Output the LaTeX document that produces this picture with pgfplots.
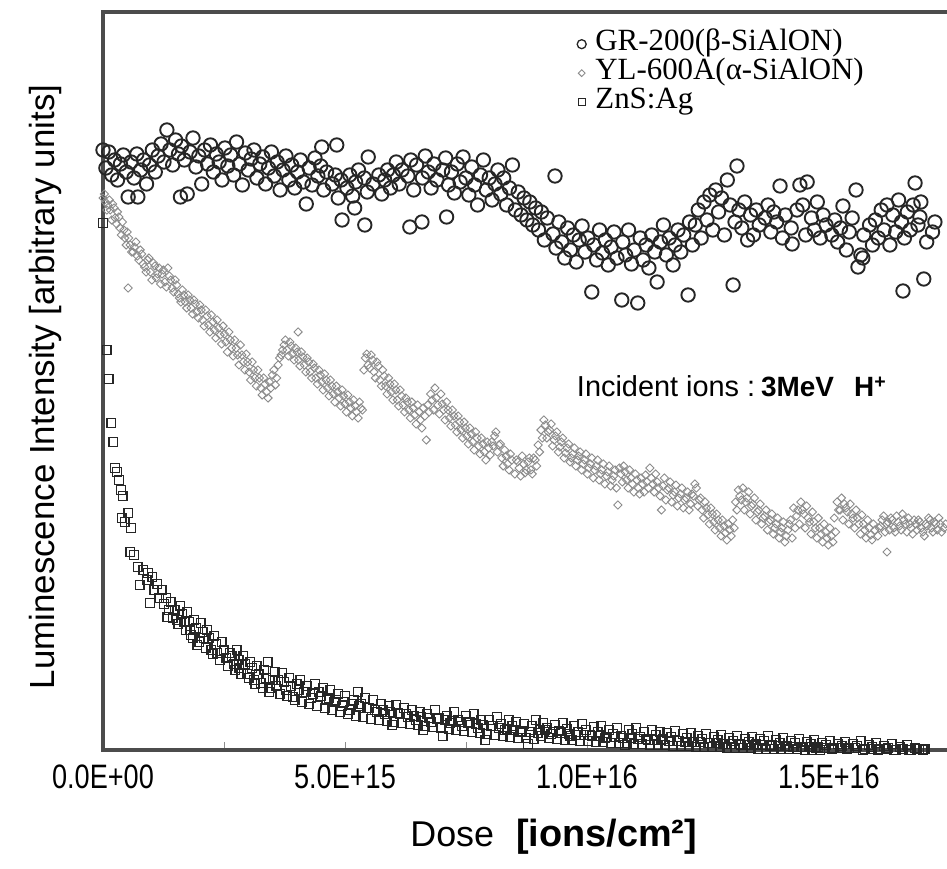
\documentclass[border=0pt]{standalone}
\usepackage{fontspec}
\setmainfont{Liberation Serif}
\newfontfamily\labelfont{Liberation Sans}
\newfontfamily\tickfont[FakeStretch=0.8]{Liberation Sans}
\usepackage{pgfplots}
\pgfplotsset{compat=1.18}

% dose in units of 1E+15 ions/cm^2, intensity in arbitrary units
\pgfplotstableread{
x v
0.00 600
0.06 582
0.12 598
0.18 575
0.24 590
0.30 570
0.36 586
0.42 595
0.48 578
0.52 553
0.58 588
0.64 572
0.70 596
0.72 553
0.78 580
0.84 590
0.90 566
0.96 585
1.02 600
1.08 578
1.14 594
1.20 606
1.26 588
1.32 620
1.38 600
1.44 585
1.50 610
1.56 596
1.60 553
1.62 604
1.68 590
1.74 556
1.80 598
1.86 612
1.92 583
1.98 594
2.04 566
2.10 600
2.16 586
2.22 605
2.28 578
2.34 596
2.40 588
2.46 570
2.52 602
2.58 584
2.64 595
2.70 575
2.76 608
2.82 586
2.88 565
2.94 597
3.00 580
3.06 591
3.12 600
3.18 572
3.24 586
3.30 593
3.36 566
3.42 582
3.48 598
3.54 574
3.60 588
3.66 560
3.72 580
3.78 594
3.84 570
3.90 585
3.96 562
4.02 578
4.08 590
4.14 568
4.20 546
4.26 582
4.32 565
4.38 592
4.44 574
4.50 584
4.52 603
4.56 560
4.62 578
4.74 566
4.80 575
4.83 605
4.86 552
4.92 570
4.94 530
5.04 562
5.10 575
5.16 554
5.20 542
5.22 568
5.28 580
5.40 572
5.41 525
5.46 558
5.48 593
5.58 566
5.70 575
5.76 556
5.82 570
5.88 580
5.94 562
6.00 575
6.06 588
6.12 566
6.18 580
6.30 574
6.34 523
6.36 590
6.42 560
6.48 585
6.59 528
6.60 572
6.66 594
6.72 578
6.78 562
6.84 586
6.90 570
7.02 580
7.08 592
7.10 533
7.14 565
7.20 578
7.26 557
7.32 586
7.38 568
7.44 593
7.50 572
7.56 555
7.62 583
7.68 565
7.74 545
7.80 575
7.86 590
7.92 560
7.98 572
8.04 550
8.10 566
8.16 580
8.22 556
8.28 572
8.34 545
8.40 562
8.46 585
8.52 540
8.58 558
8.64 535
8.70 552
8.76 530
8.82 548
8.88 525
8.94 542
9.00 520
9.06 538
9.12 510
9.18 532
9.30 516
9.34 574
9.36 502
9.42 528
9.48 508
9.54 492
9.60 522
9.66 500
9.72 515
9.78 488
9.84 510
9.90 524
9.96 498
10.02 512
10.10 458
10.14 505
10.20 490
10.26 520
10.32 497
10.38 510
10.44 485
10.50 503
10.56 518
10.62 492
10.72 450
10.74 508
10.80 495
10.86 520
10.92 486
10.98 500
11.05 447
11.10 512
11.16 490
11.22 505
11.28 482
11.34 515
11.40 498
11.45 468
11.52 508
11.58 525
11.64 495
11.70 512
11.78 485
11.82 505
11.88 520
11.94 498
12.00 515
12.09 455
12.12 528
12.18 505
12.24 525
12.30 540
12.36 512
12.42 548
12.48 530
12.54 555
12.60 520
12.66 560
12.72 538
12.78 552
12.84 515
12.90 570
12.96 545
13.02 465
13.06 528
13.10 584
13.14 540
13.20 522
13.26 548
13.32 510
13.38 535
13.44 515
13.50 540
13.56 525
13.68 532
13.74 545
13.80 518
13.86 538
13.92 528
13.99 564
14.04 512
14.10 535
14.22 522
14.24 506
14.34 540
14.40 565
14.46 545
14.52 515
14.55 568
14.64 532
14.70 520
14.76 548
14.82 512
14.88 535
14.94 525
15.06 515
15.12 530
15.18 508
15.24 522
15.29 544
15.36 500
15.42 518
15.48 532
15.56 560
15.60 483
15.66 495
15.70 492
15.72 515
15.84 525
15.90 505
15.96 530
16.02 512
16.08 540
16.14 520
16.20 545
16.26 505
16.32 535
16.38 518
16.44 550
16.50 528
16.53 459
16.56 512
16.62 538
16.68 520
16.74 545
16.78 567
16.84 525
16.88 533
16.90 548
16.96 471
17.02 508
17.14 518
17.19 528
}\grdata

\pgfplotstableread{
x v
0.00 552
0.03 556
0.05 548
0.08 540
0.10 545
0.13 550
0.15 540
0.18 530
0.20 546
0.23 542
0.25 532
0.28 526
0.30 538
0.33 533
0.35 522
0.38 515
0.40 528
0.43 520
0.45 512
0.48 505
0.50 518
0.52 462
0.53 512
0.56 505
0.59 498
0.62 498
0.65 503
0.68 508
0.71 494
0.74 490
0.77 500
0.80 496
0.83 486
0.86 483
0.89 478
0.92 490
0.95 492
0.98 478
1.01 470
1.04 487
1.07 484
1.10 472
1.13 476
1.16 482
1.19 466
1.22 476
1.25 480
1.28 468
1.31 463
1.34 482
1.37 474
1.40 470
1.43 462
1.46 458
1.49 470
1.52 465
1.55 456
1.58 452
1.61 448
1.64 460
1.67 455
1.70 448
1.73 442
1.76 455
1.79 450
1.82 442
1.85 436
1.88 450
1.91 446
1.94 438
1.97 432
2.00 445
2.03 440
2.06 430
2.09 424
2.12 440
2.15 434
2.18 425
2.21 418
2.24 435
2.27 428
2.30 420
2.33 412
2.36 430
2.39 422
2.42 415
2.45 406
2.48 424
2.51 416
2.54 408
2.57 398
2.60 418
2.63 410
2.66 402
2.69 394
2.72 410
2.75 402
2.78 395
2.81 385
2.84 405
2.87 395
2.90 388
2.93 380
2.96 396
2.99 388
3.02 378
3.05 370
3.08 388
3.11 380
3.14 372
3.17 364
3.20 380
3.23 372
3.26 362
3.29 355
3.32 372
3.35 366
3.38 358
3.41 352
3.44 368
3.47 362
3.50 375
3.53 380
3.56 365
3.59 372
3.62 385
3.65 392
3.68 395
3.71 400
3.74 405
3.77 410
3.80 400
3.83 394
3.86 408
3.89 404
3.92 396
3.95 390
3.98 402
4.01 398
4.03 418
4.04 390
4.07 384
4.10 398
4.13 393
4.16 385
4.19 378
4.22 392
4.25 388
4.28 378
4.31 372
4.34 386
4.37 382
4.40 372
4.43 366
4.46 380
4.49 375
4.52 368
4.55 360
4.58 376
4.61 370
4.64 362
4.67 354
4.70 370
4.73 364
4.76 356
4.79 348
4.82 364
4.85 358
4.88 352
4.91 344
4.94 360
4.97 354
5.00 346
5.03 338
5.06 355
5.09 348
5.12 342
5.15 334
5.18 350
5.21 344
5.24 338
5.27 332
5.30 348
5.33 342
5.36 340
5.39 380
5.42 392
5.45 396
5.48 385
5.51 382
5.54 395
5.57 390
5.60 378
5.63 372
5.66 388
5.69 384
5.72 370
5.75 364
5.78 380
5.81 374
5.84 364
5.87 356
5.90 372
5.93 366
5.96 358
5.99 350
6.02 366
6.05 360
6.08 350
6.11 344
6.14 360
6.17 354
6.20 345
6.23 338
6.26 352
6.29 348
6.32 340
6.35 332
6.38 348
6.41 342
6.44 335
6.47 326
6.50 345
6.53 338
6.56 330
6.59 322
6.62 342
6.65 334
6.68 310
6.71 345
6.74 338
6.77 356
6.80 350
6.83 340
6.86 362
6.89 352
6.92 345
6.95 336
6.98 356
7.01 346
7.04 340
7.07 330
7.10 348
7.13 340
7.16 332
7.19 324
7.22 340
7.25 334
7.28 325
7.31 318
7.34 334
7.37 328
7.40 320
7.43 312
7.46 328
7.49 322
7.52 314
7.55 306
7.58 322
7.61 316
7.64 308
7.67 300
7.70 318
7.73 312
7.76 304
7.79 296
7.82 312
7.85 306
7.88 298
7.91 290
7.94 308
7.97 302
8.00 295
8.03 308
8.06 304
8.09 314
8.12 318
8.15 298
8.18 305
8.21 306
8.24 292
8.27 284
8.30 300
8.33 294
8.36 286
8.39 280
8.42 296
8.45 290
8.51 276
8.54 290
8.57 288
8.60 282
8.63 274
8.66 294
8.69 286
8.72 277
8.75 280
8.78 288
8.81 292
8.84 280
8.87 276
8.90 292
8.93 290
8.96 284
8.99 305
9.02 298
9.05 320
9.08 312
9.11 330
9.14 325
9.17 312
9.20 318
9.23 320
9.26 326
9.29 304
9.32 310
9.35 314
9.38 318
9.41 298
9.44 303
9.47 308
9.50 312
9.53 292
9.56 297
9.59 302
9.62 306
9.65 288
9.68 292
9.71 296
9.74 302
9.77 284
9.80 290
9.83 294
9.86 298
9.89 280
9.92 286
9.95 290
9.98 296
10.01 276
10.04 282
10.07 286
10.10 292
10.13 272
10.16 280
10.19 284
10.22 290
10.25 270
10.28 276
10.31 280
10.34 286
10.37 266
10.40 274
10.43 278
10.46 284
10.49 264
10.52 270
10.55 274
10.58 280
10.61 262
10.64 245
10.67 282
10.70 276
10.73 268
10.76 284
10.79 278
10.82 270
10.85 262
10.88 280
10.91 272
10.94 266
10.97 258
11.00 276
11.03 270
11.06 262
11.09 256
11.12 272
11.15 266
11.18 258
11.21 275
11.24 268
11.27 262
11.30 282
11.33 272
11.36 266
11.39 258
11.42 276
11.45 268
11.48 262
11.51 254
11.54 240
11.57 264
11.60 272
11.63 250
11.66 260
11.69 262
11.72 268
11.75 248
11.78 255
11.81 258
11.84 265
11.87 244
11.90 252
11.93 256
11.96 262
11.99 242
12.02 250
12.05 252
12.08 258
12.11 240
12.14 246
12.17 256
12.20 254
12.23 266
12.26 262
12.29 244
12.32 250
12.35 252
12.38 240
12.41 232
12.44 248
12.47 242
12.50 235
12.53 226
12.56 242
12.59 236
12.62 228
12.65 220
12.68 236
12.71 230
12.74 222
12.77 214
12.80 230
12.83 224
12.86 217
12.89 210
12.92 226
12.95 220
12.98 214
13.01 230
13.04 222
13.07 248
13.10 240
13.13 260
13.16 254
13.19 250
13.22 262
13.25 240
13.28 248
13.31 252
13.34 258
13.37 236
13.40 244
13.43 246
13.46 252
13.49 230
13.52 238
13.55 240
13.58 246
13.61 226
13.64 232
13.67 234
13.70 240
13.73 220
13.76 228
13.79 230
13.82 236
13.85 216
13.88 222
13.91 226
13.94 232
13.97 212
14.00 218
14.03 222
14.06 228
14.09 208
14.12 214
14.15 220
14.18 226
14.21 230
14.24 212
14.27 242
14.30 222
14.33 234
14.36 240
14.39 226
14.42 248
14.45 240
14.48 236
14.51 222
14.54 244
14.57 232
14.60 228
14.63 216
14.66 238
14.69 228
14.72 222
14.75 212
14.78 232
14.81 222
14.84 216
14.87 208
14.90 226
14.93 218
14.96 212
14.99 205
15.02 222
15.05 214
15.08 208
15.11 232
15.14 218
15.17 248
15.20 240
15.23 240
15.26 252
15.29 230
15.32 246
15.35 242
15.38 238
15.41 226
15.44 246
15.47 236
15.50 232
15.53 222
15.56 240
15.59 232
15.62 226
15.65 216
15.68 235
15.71 226
15.74 220
15.77 212
15.80 230
15.83 222
15.86 215
15.89 210
15.92 226
15.95 220
16.01 214
16.04 222
16.07 224
16.10 230
16.13 234
16.16 218
16.19 226
16.20 198
16.22 228
16.25 220
16.28 232
16.31 230
16.34 222
16.37 218
16.40 234
16.43 228
16.46 224
16.49 220
16.52 236
16.55 230
16.58 226
16.61 218
16.64 232
16.67 226
16.70 222
16.73 216
16.76 230
16.79 226
16.82 220
16.85 230
16.88 228
16.91 222
16.94 218
16.97 214
17.00 226
17.03 224
17.06 232
17.09 230
17.12 222
17.15 218
17.18 228
17.21 226
17.24 220
17.27 232
17.30 226
17.33 218
17.38 222
17.41 226
}\yldata

\pgfplotstableread{
x v
0.00 527
0.08 400
0.12 371
0.17 327
0.21 308
0.25 282
0.29 278
0.33 270
0.37 260
0.39 232
0.41 254
0.45 228
0.52 237
0.56 198
0.58 222
0.64 195
0.72 183
0.76 165
0.83 180
0.90 170
0.93 177
0.97 147
1.02 173
1.06 160
1.12 166
1.16 152
1.21 160
1.26 146
1.30 152
1.33 133
1.36 140
1.40 148
1.44 132
1.48 140
1.53 130
1.56 126
1.60 144
1.64 136
1.68 128
1.71 120
1.74 138
1.78 128
1.80 120
1.81 115
1.85 112
1.88 130
1.92 122
1.95 105
1.99 108
2.02 127
2.06 118
2.08 112
2.12 102
2.15 120
2.19 112
2.24 100
2.27 96
2.30 114
2.34 106
2.36 97
2.41 90
2.45 108
2.49 100
2.55 92
2.58 84
2.62 97
2.66 94
2.70 86
2.73 80
2.76 100
2.80 90
2.82 82
2.86 76
2.90 94
2.94 86
2.98 76
3.01 72
3.04 88
3.08 82
3.12 70
3.15 66
3.18 84
3.22 76
3.26 67
3.30 62
3.33 80
3.37 72
3.40 88
3.44 58
3.46 62
3.51 70
3.55 78
3.58 64
3.62 70
3.66 56
3.70 77
3.74 68
3.78 60
3.81 54
3.85 72
3.88 64
3.92 53
3.96 50
4.00 66
4.04 60
4.08 70
4.11 48
4.15 58
4.19 58
4.22 64
4.26 46
4.30 52
4.34 56
4.38 66
4.42 44
4.46 58
4.50 54
4.55 62
4.58 42
4.62 50
4.66 52
4.70 60
4.74 40
4.78 48
4.82 50
4.86 56
4.90 38
4.94 44
4.97 48
5.00 54
5.06 36
5.10 40
5.14 46
5.18 50
5.22 34
5.26 58
5.30 44
5.34 46
5.38 33
5.42 52
5.46 42
5.50 42
5.54 31
5.58 50
5.62 40
5.66 38
5.70 30
5.74 46
5.78 40
5.82 36
5.86 29
5.90 44
5.94 38
5.98 25
6.02 28
6.06 45
6.10 37
6.14 36
6.18 27
6.22 42
6.26 36
6.30 33
6.34 26
6.38 40
6.42 34
6.46 30
6.50 25
6.54 38
6.58 33
6.62 20
6.66 24
6.70 36
6.74 32
6.78 28
6.82 23
6.86 40
6.90 31
6.94 32
6.98 22
7.02 14
7.06 30
7.10 34
7.14 21
7.18 27
7.22 29
7.26 38
7.30 20
7.34 30
7.38 28
7.42 24
7.46 19
7.50 34
7.54 27
7.58 28
7.62 18
7.66 36
7.70 26
7.74 22
7.78 17
7.82 30
7.86 25
7.90 10
7.94 16
7.98 30
8.02 24
8.06 24
8.10 15
8.14 33
8.18 22
8.22 26
8.26 14
8.30 20
8.34 21
8.38 30
8.42 13
8.46 24
8.50 20
8.54 28
8.58 12
8.62 18
8.66 19
8.70 26
8.74 12
8.78 6
8.82 18
8.86 24
8.90 11
8.94 30
8.98 17
9.02 20
9.06 14
9.10 27
9.14 20
9.18 22
9.22 12
9.26 16
9.30 18
9.34 25
9.38 11
9.42 19
9.46 17
9.50 27
9.54 10
9.58 21
9.62 16
9.66 14
9.70 10
9.74 24
9.78 15
9.82 18
9.86 9
9.90 26
9.94 15
9.98 20
10.02 9
10.06 15
10.10 14
10.14 23
10.18 8
10.22 18
10.26 14
10.30 24
10.34 8
10.38 12
10.42 13
10.46 20
10.50 7
10.54 16
10.58 13
10.62 22
10.66 7
10.70 14
10.74 12
10.78 5
10.82 7
10.86 20
10.90 12
10.94 16
10.98 6
11.02 22
11.06 11
11.10 13
11.14 6
11.18 18
11.22 11
11.26 10
11.30 5
11.34 20
11.38 10
11.42 15
11.46 5
11.50 18
11.54 10
11.58 11
11.62 5
11.66 17
11.70 9
11.74 13
11.78 4
11.82 19
11.86 9
11.90 9
11.94 4
11.98 16
12.02 8
12.06 12
12.10 4
12.14 17
12.18 8
12.22 8
12.26 3
12.30 14
12.34 8
12.38 11
12.42 3
12.46 16
12.50 7
12.54 7
12.58 3
12.62 13
12.66 7
12.70 10
12.74 3
12.78 15
12.82 6
12.86 6
12.90 2
12.94 12
12.98 6
13.02 9
13.06 2
13.10 14
13.14 6
13.18 5
13.22 2
13.26 11
13.30 5
13.34 8
13.38 2
13.42 13
13.46 5
13.50 6
13.54 1
13.58 11
13.62 5
13.66 9
13.70 1
13.74 14
13.78 4
13.82 5
13.86 1
13.90 10
13.94 4
13.98 7
14.02 1
14.06 12
14.10 4
14.14 4
14.18 1
14.22 9
14.26 3
14.30 7
14.34 1
14.38 11
14.42 3
14.46 3
14.50 0
14.54 8
14.58 3
14.62 6
14.66 0
14.70 10
14.74 2
14.78 3
14.82 0
14.86 7
14.90 2
14.94 5
15.02 9
15.06 1
15.10 2
15.18 6
15.22 2
15.26 4
15.34 8
15.38 1
15.42 2
15.50 6
15.54 2
15.58 4
15.66 9
15.70 0
15.74 1
15.82 5
15.86 1
15.90 3
15.98 7
16.02 0
16.06 1
16.14 4
16.18 1
16.22 2
16.30 6
16.34 0
16.38 0
16.46 3
16.50 1
16.54 1
16.62 5
16.66 0
16.70 0
16.78 2
16.82 1
16.86 1
16.94 0
16.98 1
}\znsdata

\begin{document}
\begin{tikzpicture}
\begin{axis}[
  name=ax,
  scale only axis, width=844bp, height=738bp,
  xmin=0, xmax=17.44, ymin=0, ymax=738,
  clip=false,
  axis line style={draw=none},
  xtick={0,5,10,15},
  xticklabels={0.0E+00,5.0E+15,1.0E+16,1.5E+16},
  minor xtick={2.5,7.5,12.5},
  ytick=\empty,
  tick align=inside, xtick pos=bottom,
  major tick length=8bp, minor tick length=8bp,
  xtick style={black!45, line width=0.8bp},
  xticklabel style={font=\tickfont\fontsize{34}{40}\selectfont, anchor=base, yshift=-38bp, inner sep=0pt},
  xlabel={Dose\hspace{22bp}{\bfseries\fontsize{38}{44}\selectfont [ions/cm²]}},
  xlabel style={font=\labelfont\fontsize{36}{42}\selectfont, at={(axis description cs:0.534,-0.1301)}, anchor=base, inner sep=0pt},
  ylabel={Luminescence Intensity [arbitrary units]},
  ylabel style={font=\labelfont\fontsize{35}{42}\selectfont, at={(axis description cs:-0.0569,0.4919)}, anchor=base, inner sep=0pt},
  legend cell align=left,
  legend image code/.code={\draw[#1] plot coordinates {(0bp,0bp)}; \path (-5bp,-10bp) (13bp,0bp);},
  legend style={at={(axis cs:9.78,720.5)}, anchor=north west, draw=none, fill=none, inner sep=0pt,
    font=\fontsize{31}{36}\selectfont, row sep=0pt,
    nodes={inner sep=0.5bp, text height=20bp, text depth=8bp}},
]
\draw[line width=3.5bp, black!70] (rel axis cs:1,1) -- (rel axis cs:0,1) -- (rel axis cs:0,0) -- (rel axis cs:1,0);

\addplot[only marks, mark=o, black!85, mark size=6.7bp, mark options={line width=1.9bp}, forget plot] table[x=x, y=v] {\grdata};
\addplot[only marks, mark=square, black!45, mark size=2.9bp, mark options={rotate=45, line width=0.9bp}, forget plot] table[x=x, y=v] {\yldata};
\addplot[only marks, mark=square, black!85, mark size=4.3bp, mark options={line width=1.4bp}, forget plot] table[x=x, y=v] {\znsdata};

\addlegendimage{only marks, mark=o, black!85, mark size=4.5bp, mark options={line width=1.3bp}}
\addlegendentry{GR-200(β-SiAlON)}
\addlegendimage{only marks, mark=square, black!45, mark size=2.4bp, mark options={rotate=45, line width=0.9bp}}
\addlegendentry{YL-600A(α-SiAlON)}
\addlegendimage{only marks, mark=square, black!85, mark size=3.6bp, mark options={line width=1.2bp}}
\addlegendentry{ZnS:Ag}

\node[anchor=base west, inner sep=0pt, font=\labelfont\fontsize{29}{34}\selectfont] at (axis cs:9.79,353)
  {Incident ions\hspace{8bp}:\hspace{6bp}{\bfseries\fontsize{28}{34}\selectfont 3MeV\hspace{20bp}H\textsuperscript{+}}};
\end{axis}
\pgfresetboundingbox
\path ([xshift=-103bp,yshift=-119bp]ax.south west) rectangle ([yshift=12bp]ax.north east);
\end{tikzpicture}
\end{document}
